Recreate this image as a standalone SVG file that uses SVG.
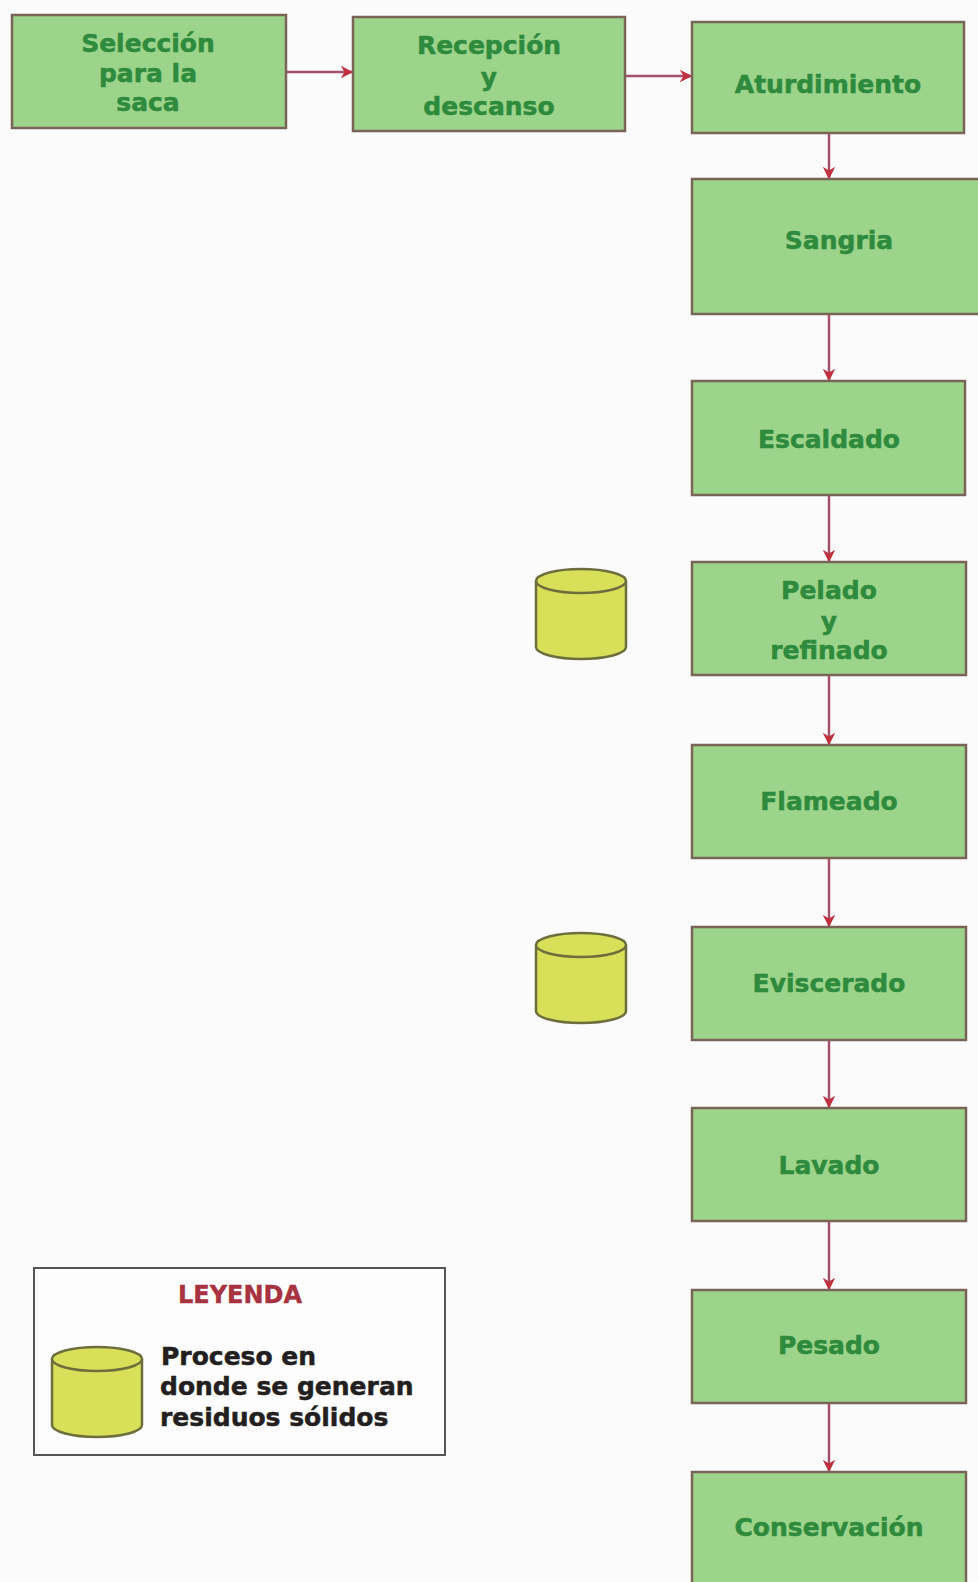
<svg xmlns="http://www.w3.org/2000/svg" width="978" height="1582" viewBox="0 0 978 1582">
  <style>
    .box { fill: #9dd48c; stroke: #7a6458; stroke-width: 2.5; }
    .lbl { font-family: "DejaVu Sans", Verdana, sans-serif; font-weight: bold; font-size: 25px; fill: #2e8a3c; stroke: #2e8a3c; stroke-width: 0.5; text-anchor: middle; dominant-baseline: central; }
    .conn { stroke: #a4506a; stroke-width: 2.5; fill: none; marker-end: url(#head); }
    .cyl { fill: #d8e05a; stroke: #6e6e3c; stroke-width: 2.5; }
    .legtxt { font-family: "DejaVu Sans", Verdana, sans-serif; font-weight: bold; font-size: 25px; fill: #231f20; stroke: #231f20; stroke-width: 0.5; }
    .legtitle { font-family: "DejaVu Sans", Verdana, sans-serif; font-weight: bold; font-size: 24px; fill: #a8323f; stroke: #a8323f; stroke-width: 0.4; text-anchor: middle; dominant-baseline: central; }
  </style>
  <defs>
    <marker id="head" viewBox="0 0 10 10" refX="9" refY="5" markerWidth="5" markerHeight="5" orient="auto" markerUnits="strokeWidth">
      <path d="M0,0 L10,5 L0,10 L3,5 z" fill="#c0303f"/>
    </marker>
    <symbol id="drum" viewBox="0 0 94 92" overflow="visible">
      <path class="cyl" d="M2,13 L2,79 A45,12 0 0 0 92,79 L92,13"/>
      <ellipse class="cyl" cx="47" cy="13" rx="45" ry="12"/>
    </symbol>
  </defs>

  <rect width="978" height="1582" fill="#fbfbfb"/>

  <!-- connectors -->
  <g id="connectors">
    <line class="conn" x1="287" y1="72" x2="352" y2="72"/>
    <line class="conn" x1="626" y1="76" x2="691" y2="76"/>
    <line class="conn" x1="829" y1="134" x2="829" y2="178"/>
    <line class="conn" x1="829" y1="315" x2="829" y2="380"/>
    <line class="conn" x1="829" y1="496" x2="829" y2="561"/>
    <line class="conn" x1="829" y1="676" x2="829" y2="744"/>
    <line class="conn" x1="829" y1="859" x2="829" y2="926"/>
    <line class="conn" x1="829" y1="1041" x2="829" y2="1107"/>
    <line class="conn" x1="829" y1="1222" x2="829" y2="1289"/>
    <line class="conn" x1="829" y1="1404" x2="829" y2="1471"/>
  </g>

  <!-- process steps -->
  <g id="seleccion">
    <rect class="box" x="12" y="15" width="274" height="113"/>
    <text class="lbl" x="148" y="43">Selección</text>
    <text class="lbl" x="148" y="73">para la</text>
    <text class="lbl" x="148" y="102">saca</text>
  </g>
  <g id="recepcion">
    <rect class="box" x="353" y="17" width="272" height="114"/>
    <text class="lbl" x="489" y="45">Recepción</text>
    <text class="lbl" x="489" y="77">y</text>
    <text class="lbl" x="489" y="106">descanso</text>
  </g>
  <g id="aturdimiento">
    <rect class="box" x="692" y="22" width="272" height="111"/>
    <text class="lbl" x="828" y="84">Aturdimiento</text>
  </g>
  <g id="sangria">
    <rect class="box" x="692" y="179" width="290" height="135"/>
    <text class="lbl" x="839" y="240">Sangria</text>
  </g>
  <g id="escaldado">
    <rect class="box" x="692" y="381" width="273" height="114"/>
    <text class="lbl" x="829" y="439">Escaldado</text>
  </g>
  <g id="pelado">
    <rect class="box" x="692" y="562" width="274" height="113"/>
    <text class="lbl" x="829" y="590">Pelado</text>
    <text class="lbl" x="829" y="621">y</text>
    <text class="lbl" x="829" y="650">refinado</text>
  </g>
  <g id="flameado">
    <rect class="box" x="692" y="745" width="274" height="113"/>
    <text class="lbl" x="829" y="801">Flameado</text>
  </g>
  <g id="eviscerado">
    <rect class="box" x="692" y="927" width="274" height="113"/>
    <text class="lbl" x="829" y="983">Eviscerado</text>
  </g>
  <g id="lavado">
    <rect class="box" x="692" y="1108" width="274" height="113"/>
    <text class="lbl" x="829" y="1165">Lavado</text>
  </g>
  <g id="pesado">
    <rect class="box" x="692" y="1290" width="274" height="113"/>
    <text class="lbl" x="829" y="1345">Pesado</text>
  </g>
  <g id="conservacion">
    <rect class="box" x="692" y="1472" width="274" height="125"/>
    <text class="lbl" x="829" y="1527">Conservación</text>
  </g>

  <!-- solid waste markers -->
  <g id="residuo-pelado">
    <use href="#drum" x="534" y="568" width="94" height="92"/>
  </g>
  <g id="residuo-eviscerado">
    <use href="#drum" x="534" y="932" width="94" height="92"/>
  </g>

  <!-- legend -->
  <g id="leyenda">
    <rect x="34" y="1268" width="411" height="187" fill="#fdfdfd" stroke="#555555" stroke-width="2"/>
    <text class="legtitle" x="240" y="1295">LEYENDA</text>
    <use href="#drum" x="50" y="1346" width="94" height="92"/>
    <text class="legtxt" x="161" y="1365">Proceso en</text>
    <text class="legtxt" x="160" y="1395">donde se generan</text>
    <text class="legtxt" x="160" y="1426">residuos sólidos</text>
  </g>
</svg>
